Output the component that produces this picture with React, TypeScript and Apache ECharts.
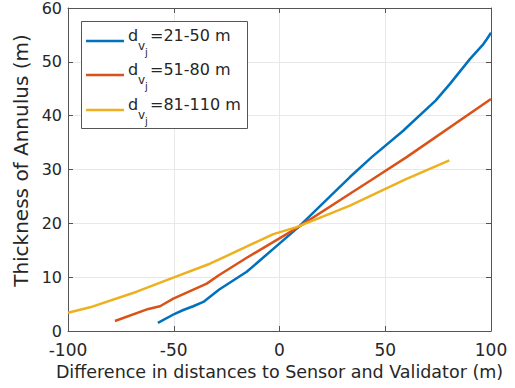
import React, { useEffect, useRef } from "react";
import * as echarts from "echarts";

const xTicks = [-100, -50, 0, 50, 100];
const yTicks = [0, 10, 20, 30, 40, 50, 60];

const blueX = [-57.5, -49.5, -45.5, -40.8, -36, -28.5, -15.5, 8.7, 23.9, 33.3, 43.6, 58.5, 60.1, 73.8, 80.6, 90, 96.4, 98, 100];
const blueY = [1.5, 3.2, 3.9, 4.6, 5.4, 7.7, 11.0, 19.2, 25.0, 28.6, 32.3, 37.2, 37.8, 42.8, 45.9, 50.5, 53.3, 54.2, 55.4];

const redX = [-77.8, -62, -56.5, -50.2, -34.4, -28.5, -15.5, 8.5, 33.3, 43.6, 60.1, 100];
const redY = [1.85, 4.1, 4.6, 6.0, 8.8, 10.4, 13.6, 19.2, 25.5, 28.1, 32.3, 43.1];

const yelX = [-100, -89.6, -67.5, -50.2, -32.9, -28.5, -2.9, 8.1, 33.3, 59.3, 80.3];
const yelY = [3.4, 4.4, 7.3, 9.9, 12.5, 13.3, 18.0, 19.3, 23.3, 28.1, 31.7];

const seriesNames = ["=21-50 m", "=51-80 m", "=81-110 m"];
const colors = ["#0072BD", "#D95319", "#EDB120"];

const zip = (xs: number[], ys: number[]) => xs.map((x, i) => [x, ys[i]]);

export default function App() {
  const ref = useRef<HTMLDivElement>(null);
  useEffect(() => {
    if (!ref.current) return;
    const chart = echarts.init(ref.current, undefined, { renderer: "svg" });
    const font = "DejaVu Sans";
    const txt = "#262626";
    const axisCol = "#555555";
    const grid = "#e8e8e8";

    const legendRows = [41, 75, 110];
    const legendGraphics: any[] = [
      {
        type: "rect",
        shape: { x: 81.5, y: 21.5, width: 166, height: 107 },
        style: { fill: "#ffffff", stroke: "#555555", lineWidth: 1 },
        z: 100,
      },
    ];
    legendRows.forEach((ry, i) => {
      legendGraphics.push({
        type: "line",
        shape: { x1: 86, y1: ry, x2: 124, y2: ry },
        style: { stroke: colors[i], lineWidth: 2.5 },
        z: 101,
      });
      legendGraphics.push({
        type: "text",
        x: 128,
        y: ry - 6,
        style: { text: "d", font: `16px ${font}`, fill: txt, textVerticalAlign: "middle" },
        z: 101,
      });
      legendGraphics.push({
        type: "text",
        x: 138,
        y: ry + 5,
        style: { text: "v", font: `12px ${font}`, fill: txt, textVerticalAlign: "middle" },
        z: 101,
      });
      legendGraphics.push({
        type: "text",
        x: 145,
        y: ry + 11,
        style: { text: "j", font: `10px ${font}`, fill: txt, textVerticalAlign: "middle" },
        z: 101,
      });
      legendGraphics.push({
        type: "text",
        x: 150,
        y: ry - 6,
        style: { text: seriesNames[i], font: `16px ${font}`, fill: txt, textVerticalAlign: "middle" },
        z: 101,
      });
    });

    const mkLine = (name: string, data: number[][], color: string) => ({
      name,
      type: "line",
      data,
      showSymbol: false,
      symbol: "none",
      lineStyle: { color, width: 2.5 },
      itemStyle: { color },
      z: 5,
    });

    chart.setOption({
      animation: false,
      backgroundColor: "#ffffff",
      grid: { left: 68, right: 24, top: 7, bottom: 57 },
      xAxis: [
        {
          type: "value",
          min: -100,
          max: 100,
          interval: 50,
          position: "bottom",
          name: "Difference in distances to Sensor and Validator (m)",
          nameLocation: "middle",
          nameGap: 31,
          nameTextStyle: { fontFamily: font, fontSize: 17.5, color: txt },
          axisLine: { show: true, onZero: false, lineStyle: { color: axisCol, width: 1 } },
          axisTick: { show: true, inside: true, length: 5, lineStyle: { color: axisCol } },
          axisLabel: {
            fontFamily: font,
            fontSize: 17,
            lineHeight: 12,
            color: txt,
            margin: 13,
            formatter: (v: number) => (xTicks.includes(v) ? String(v) : ""),
          },
          splitLine: { show: true, lineStyle: { color: grid, width: 1 } },
        },
        {
          type: "value",
          min: -100,
          max: 100,
          interval: 50,
          position: "top",
          axisLine: { show: true, onZero: false, lineStyle: { color: axisCol, width: 1 } },
          axisTick: { show: true, inside: true, length: 5, lineStyle: { color: axisCol } },
          axisLabel: { show: false },
          splitLine: { show: false },
        },
      ],
      yAxis: [
        {
          type: "value",
          min: 0,
          max: 60,
          interval: 10,
          position: "left",
          name: "Thickness of Annulus (m)",
          nameLocation: "middle",
          nameGap: 36,
          nameTextStyle: { fontFamily: font, fontSize: 20, color: txt, padding: [0, 0, 0, 18] },
          axisLine: { show: true, onZero: false, lineStyle: { color: axisCol, width: 1 } },
          axisTick: { show: true, inside: true, length: 5, lineStyle: { color: axisCol } },
          axisLabel: {
            fontFamily: font,
            fontSize: 16,
            lineHeight: 12,
            color: txt,
            margin: 6,
            formatter: (v: number) => (yTicks.includes(v) ? String(v) : ""),
          },
          splitLine: { show: true, lineStyle: { color: grid, width: 1 } },
        },
        {
          type: "value",
          min: 0,
          max: 60,
          interval: 10,
          position: "right",
          axisLine: { show: true, onZero: false, lineStyle: { color: axisCol, width: 1 } },
          axisTick: { show: true, inside: true, length: 5, lineStyle: { color: axisCol } },
          axisLabel: { show: false },
          splitLine: { show: false },
        },
      ],
      series: [
        mkLine(seriesNames[0], zip(blueX, blueY), colors[0]),
        mkLine(seriesNames[1], zip(redX, redY), colors[1]),
        mkLine(seriesNames[2], zip(yelX, yelY), colors[2]),
      ],
      graphic: legendGraphics,
    });
    return () => chart.dispose();
  }, []);
  return (
    <div
      ref={ref}
      style={{ position: "fixed", left: 0, top: 0, width: 515, height: 388 }}
    />
  );
}
